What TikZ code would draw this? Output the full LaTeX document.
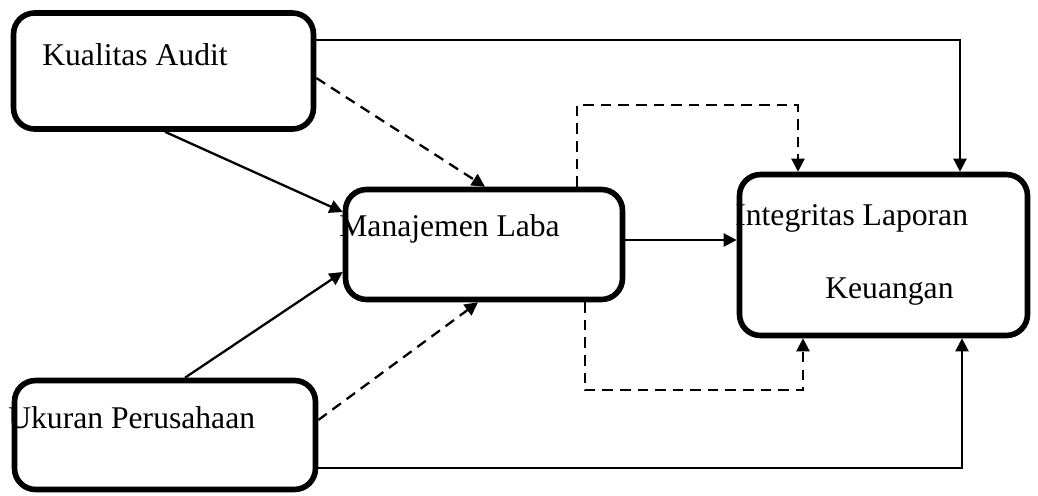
\documentclass[tikz,border=0pt]{standalone}
\usepackage{fontspec}
\setmainfont{Liberation Serif}
\usetikzlibrary{arrows.meta}
\begin{document}
\begin{tikzpicture}[>={Triangle[length=7.5pt,width=7.5pt]},x=0.02cm,y=-0.02cm,
	box/.style={draw,line width=3.2pt,rounded corners=0.42cm,inner sep=0pt},
	lbl/.style={anchor=west,inner sep=0pt,font=\fontsize{18}{20}\selectfont},
	conn/.style={->,line width=1.3pt},
	dashline/.style={conn,dash pattern=on 6pt off 4pt}]
	\useasboundingbox (0,0) rectangle (1038,495);
	% teks dulu, lalu kotak di atasnya
	\node[lbl] (tka) at (42,55) {Kualitas Audit};
	\node[lbl] (tmb) at (339,229) {Manajemen Laba};
	\node[lbl] (tilk) at (735,218) {Integritas Laporan};
	\node[lbl] (tku) at (825,292) {Keuangan};
	\node[lbl] (tup) at (8,418) {Ukuran Perusahaan};
	\node[box,minimum width=6cm,minimum height=2.32cm] (ka) at (163.5,71) {};
	\node[box,minimum width=5.54cm,minimum height=2.2cm] (mb) at (484,244.5) {};
	\node[box,minimum width=5.76cm,minimum height=3.22cm] (ilk) at (883.5,255) {};
	\node[box,minimum width=6.02cm,minimum height=2.18cm] (up) at (165,435) {};
	% panah
	\draw[conn] (ka.east |- 0,40) -| (ilk.north -| 960,0);
	\draw[dashline] (ka.east |- 0,78) -- (mb.north -| 485,0);
	\draw[conn] (ka.south -| 165,0) -- (mb.west |- 0,212);
	\draw[conn] (up.north -| 185,0) -- (mb.west |- 0,272);
	\draw[dashline] (up.east |- 0,420) -- (mb.south -| 478,0);
	\draw[conn] (up.east |- 0,468) -| (ilk.south -| 962,0);
	\draw[conn] (mb.east |- 0,240) -- (ilk.west |- 0,240);
	\draw[dashline] (mb.north -| 577,0) -- ++(0,-81.5) -| (ilk.north -| 798,0);
	\draw[dashline] (mb.south -| 585,0) -- ++(0,88) -| (ilk.south -| 803,0);
\end{tikzpicture}
\end{document}
